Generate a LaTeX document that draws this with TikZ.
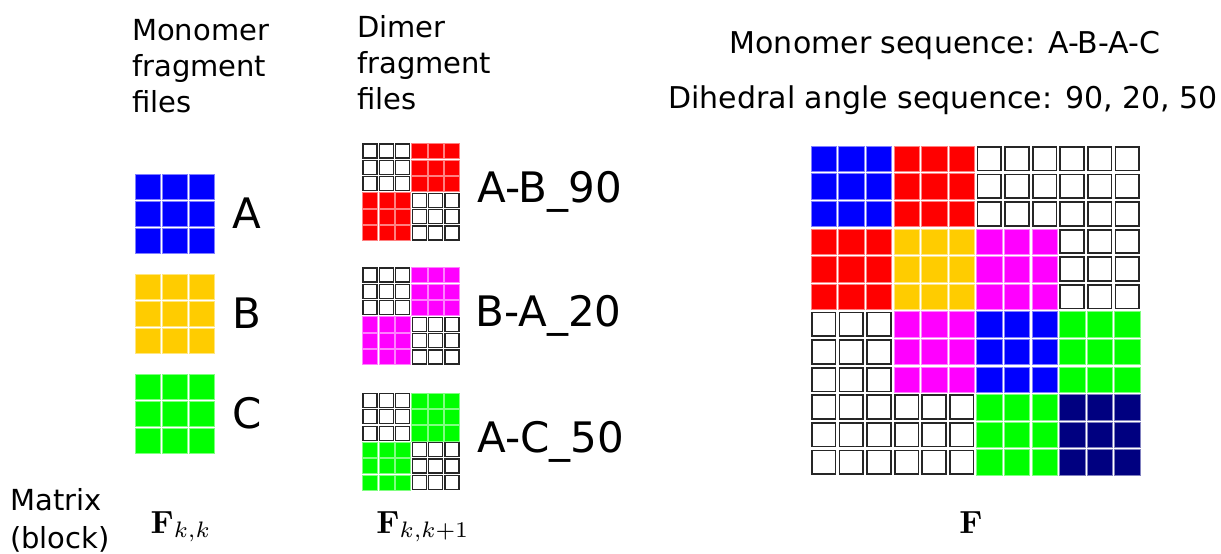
\documentclass[tikz,border=0pt]{standalone}
\usepackage{amsmath}
\usepackage[no-math]{fontspec}
\setmainfont{DejaVu Sans}
\usetikzlibrary{positioning, calc}

\definecolor{fragblue}{RGB}{0,0,255}
\definecolor{fragred}{RGB}{255,0,0}
\definecolor{fragyellow}{RGB}{255,204,0}
\definecolor{fragmagenta}{RGB}{255,0,255}
\definecolor{fraggreen}{RGB}{0,255,0}
\definecolor{fragnavy}{RGB}{0,0,128}

% 3x3 cells of one sub-block: [inset] node, pitch, column, row, style
\newcommand{\subblock}[6][0]{%
  \foreach \i in {0,1,2}{
    \foreach \j in {0,1,2}{
      \path[#6] ($(#2.north west)+({(3*#4+\i+0.04)*#3+#1},{(3*#5+\j+0.04)*#3+#1})$)
        rectangle +({0.92*#3-2*#1},{0.92*#3-2*#1});
    }
  }
}
\newcommand{\bigmath}[1]{\scalebox{3.2}{$#1$}}

\begin{document}
\begin{tikzpicture}[
    x=1pt, y=-1pt,
    node distance=16pt,
    head/.style={inner sep=0pt, align=left, font=\fontsize{29}{36}\selectfont},
    seqtext/.style={inner sep=0pt, font=\fontsize{30}{36}\selectfont},
    fraglabel/.style={inner sep=0pt, font=\fontsize{42}{48}\selectfont},
    mathlabel/.style={inner sep=0pt},
    block/.style={inner sep=0pt, outer sep=0pt, minimum size=#1},
    cellfill/.style={fill=#1, draw=#1!50!white, line width=0.4pt},
    cellempty/.style={fill=white, draw=black!85, line width=#1},
    cellempty/.default=1.7pt]

    \useasboundingbox (0,0) rectangle (1221,554);

    % Headers
    \node[head, anchor=north west] (monohead) at (132,19) {Monomer\\fragment\\files};
    \node[head, anchor=north west] (dimhead) at (357,15) {Dimer\\fragment\\files};
    \node[seqtext, anchor=base] (seqmono) at (945,53) {Monomer sequence: A-B-A-C};
    \node[seqtext, anchor=base] (seqdih) at (943,108) {Dihedral angle sequence: 90, 20, 50};

    % Monomer fragment blocks
    \node[block=81pt] (monoA) at (174.5,213.5) {};
    \node[block=81pt, below=19pt of monoA] (monoB) {};
    \node[block=81pt, below=19pt of monoB] (monoC) {};
    \node[fraglabel, right=17pt of monoA] (labA) {A};
    \node[fraglabel, right=17pt of monoB] (labB) {B};
    \node[fraglabel, right=17pt of monoC] (labC) {C};
    \subblock{monoA}{27}{0}{0}{cellfill=fragblue}
    \subblock{monoB}{27}{0}{0}{cellfill=fragyellow}
    \subblock{monoC}{27}{0}{0}{cellfill=fraggreen}

    % Dimer fragment blocks
    \node[block=98.4pt] (dimAB) at (411,192) {};
    \node[block=98.4pt, below=25.6pt of dimAB] (dimBA) {};
    \node[block=98.4pt, below=27pt of dimBA] (dimAC) {};
    \node[fraglabel, right=17pt of dimAB] (labAB) {A-B\_90};
    \node[fraglabel, right=15pt of dimBA] (labBA) {B-A\_20};
    \node[fraglabel, right=17pt of dimAC] (labAC) {A-C\_50};
    \foreach \d/\col in {dimAB/fragred, dimBA/fragmagenta, dimAC/fraggreen}{
        \subblock{\d}{16.4}{1}{0}{cellfill=\col}
        \subblock{\d}{16.4}{0}{1}{cellfill=\col}
        \subblock[0.6]{\d}{16.4}{0}{0}{cellempty=1.2pt}
        \subblock[0.6]{\d}{16.4}{1}{1}{cellempty=1.2pt}
    }

    % Full matrix F
    \node[block=331.2pt] (full) at (975.5,310.5) {};
    \foreach \c/\r/\col in {0/0/fragblue, 1/0/fragred, 0/1/fragred, 1/1/fragyellow,
        2/1/fragmagenta, 1/2/fragmagenta, 2/2/fragblue, 3/2/fraggreen,
        2/3/fraggreen, 3/3/fragnavy}
        \subblock{full}{27.6}{\c}{\r}{cellfill=\col};
    \foreach \c/\r in {2/0, 3/0, 3/1, 0/2, 0/3, 1/3}
        \subblock[0.85]{full}{27.6}{\c}{\r}{cellempty};

    % Bottom row
    \node[head, anchor=north west, font=\fontsize{29}{38}\selectfont] (matlabel) at (10,488) {Matrix\\(block)};
    \node[mathlabel, anchor=base] (fkk) at (181,533) {\bigmath{\mathbf{F}_{k,k}}};
    \node[mathlabel, anchor=base] (fkk1) at (423,533) {\bigmath{\mathbf{F}_{k,k+1}}};
    \node[mathlabel, anchor=base] (fbig) at (971,533) {\bigmath{\mathbf{F}}};
\end{tikzpicture}
\end{document}
